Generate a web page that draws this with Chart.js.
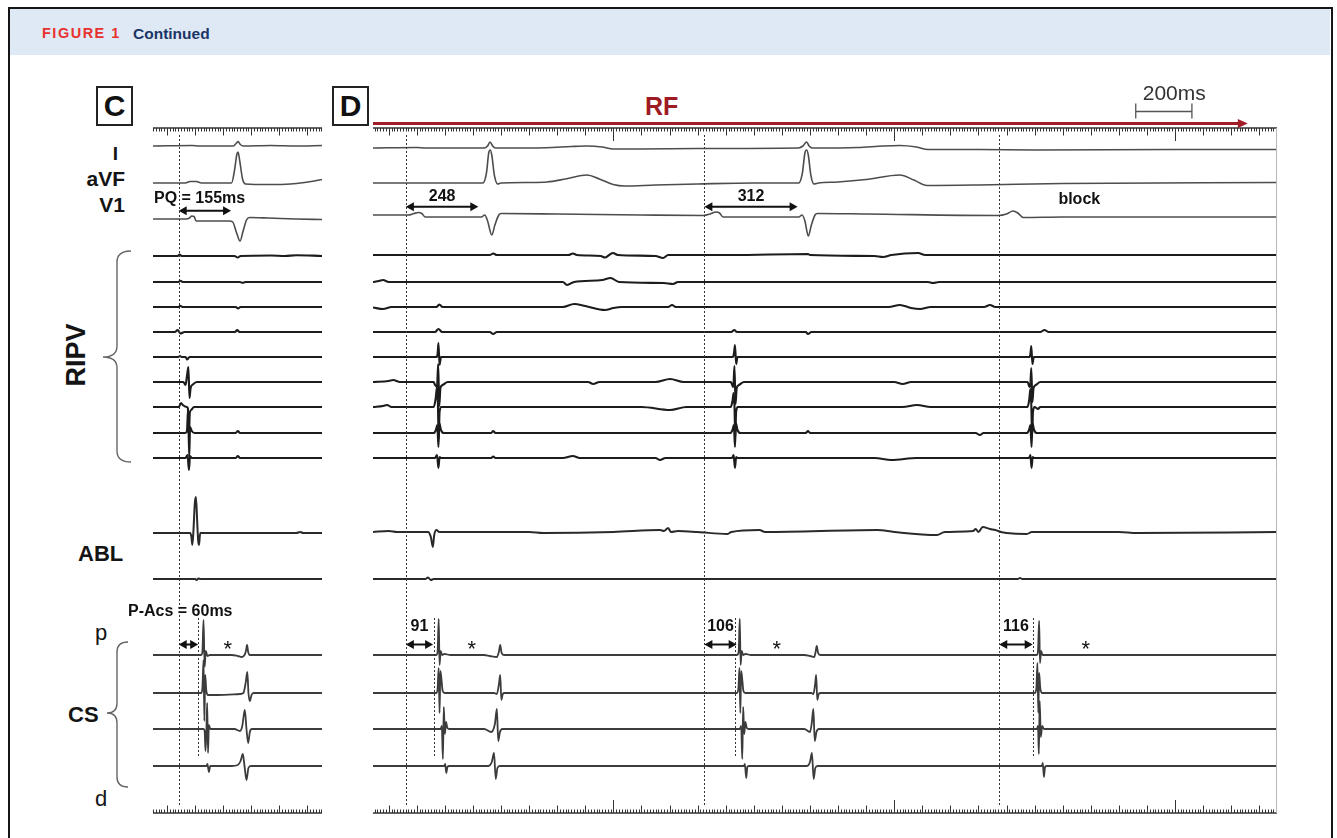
<!DOCTYPE html>
<html>
<head>
<meta charset="utf-8">
<title>Figure 1 continued</title>
<script src="https://cdn.jsdelivr.net/npm/chart.js@4.4.1/dist/chart.umd.min.js"></script>
<style>
  html, body { margin: 0; padding: 0; background: #fff; }
  body { width: 1337px; height: 838px; position: relative; overflow: hidden; font-family: "Liberation Sans", Arial, sans-serif; }
  #frame { position: absolute; left: 8px; top: 7px; width: 1325px; height: 880px; border: 2.5px solid #151515; box-sizing: border-box; }
  #band { position: absolute; left: 10px; top: 9px; width: 1320px; height: 46px; background: #dfe9f5; }
  .hdr { position: absolute; font-weight: bold; line-height: 1; white-space: nowrap; }
  .lbl { position: absolute; font-weight: bold; color: #141414; line-height: 1; white-space: nowrap; }
  .box { position: absolute; width: 37px; height: 40px; border: 2px solid #222; box-sizing: border-box; font-weight: bold; font-size: 30px; line-height: 36px; text-align: center; color: #111; }
  canvas { position: absolute; }
  svg { position: absolute; left: 0; top: 0; }
</style>
</head>
<body>
<div id="frame"></div>
<div id="band"></div>
<div class="hdr" style="left:42px; top:26.3px; font-size:14.5px; letter-spacing:1.5px; color:#e8312f;">FIGURE 1</div>
<div class="hdr" style="left:133px; top:26px; font-size:15.5px; color:#1a3566;">Continued</div>

<div class="box" style="left:96px; top:86px;">C</div>
<div class="box" style="left:332px; top:86px;">D</div>
<div class="lbl" style="left:645px; top:94px; font-size:25px; color:#9e1b24;">RF</div>

<div class="lbl" style="right:1219px; top:143.7px; font-size:19px;">I</div>
<div class="lbl" style="right:1212px; top:167.7px; font-size:21px;">aVF</div>
<div class="lbl" style="right:1212px; top:193.7px; font-size:21px;">V1</div>
<div class="lbl" style="left:76px; top:355px; font-size:27px; transform: translate(-50%, -50%) rotate(-90deg);">RIPV</div>
<div class="lbl" style="left:78px; top:543.2px; font-size:22px;">ABL</div>
<div class="lbl" style="left:95px; top:622.4px; font-size:22px; font-weight:normal;">p</div>
<div class="lbl" style="left:68px; top:704.2px; font-size:22px;">CS</div>
<div class="lbl" style="left:95px; top:788.4px; font-size:22px; font-weight:normal;">d</div>

<svg width="1337" height="838">
  <path d="M131,251 Q117,251 117,262 L117,346 Q117,357 103,357 Q117,357 117,368 L117,451 Q117,462 131,462" fill="none" stroke="#666" stroke-width="1.4"/>
  <path d="M128,642 Q117,642 117,652 L117,703 Q117,713 107,713 Q117,713 117,723 L117,777 Q117,787 128,787" fill="none" stroke="#666" stroke-width="1.4"/>
</svg>

<canvas id="chartC" width="240" height="778" style="left:100px; top:60px;"></canvas>
<canvas id="chartD" width="960" height="778" style="left:340px; top:60px;"></canvas>

<script>
// ---------- panel C : sinus beat (time in ms, amplitude in px, up = positive) ----------
const cRange = [50, 652];
const cLeadI = [[50,0],[190,0.5],[215,0],[336,0],[346,2.5],[353,4.5],[361,1.5],[372,0],[470,0.5],[560,0],[652,0.5]];
const cLeadAVF = [[50,0],[165,0],[182,1.5],[205,1.5],[222,0],[330,0],[340,12],[349,29],[353,31],[359,22],[369,4],[380,-1],[460,-1.5],[540,-1],[590,0.5],[625,2],[652,3.5]];
const cLeadV1 = [[50,0],[168,0],[180,1],[188,3],[196,2.5],[204,-2],[250,-2],[322,-2],[334,-3],[348,-14],[360,-22],[371,-12],[383,-1],[394,1.5],[460,1],[560,0],[652,-0.5]];
const cRipv1 = [[50,0],[138,0],[145,1.5],[152,0],[340,0],[352,-1.5],[362,0],[470,0.5],[520,0],[560,0.8],[652,0]];
const cRipv2 = [[50,0],[140,0],[148,1.2],[156,0],[360,0],[368,-0.8],[380,0],[652,0]];
const cRipv3 = [[50,0],[140,0],[147,1.2],[155,0],[345,0],[353,-1.5],[362,0],[652,0]];
const cRipv4 = [[50,0],[128,0],[138,2],[148,-1.5],[162,0],[342,0],[350,2],[358,0],[652,0]];
const cRipv5 = [[50,0],[140,0],[146,1],[152,0],[166,0],[172,-2.5],[180,0],[652,0]];
const cRipv6 = [[50,0],[158,0],[166,-3],[171,6],[176,15],[180,-16],[184,-6],[192,-2.5],[206,0],[652,0]];
const cRipv7 = [[50,0],[142,0],[150,4],[156,2],[170,0],[174,-1],[178,-30],[181,-6],[186,-3],[196,0],[652,0]];
const cRipv8 = [[50,0],[165,0],[171,2],[175,24],[179,-24],[182,6],[188,2],[198,0],[345,0],[352,2],[360,0],[652,0]];
const cRipv9 = [[50,0],[166,0],[173,3],[178,-12],[182,2],[188,0],[345,0],[352,2],[360,0],[652,0]];
const cAbl1 = [[50,0],[182,0],[187,-4],[190,-12],[194,2],[199,30],[203,36],[207,14],[211,-8],[214,-12],[218,0],[560,0],[575,1],[585,0],[652,0]];
const cAbl2 = [[50,0],[200,0],[205,-1],[212,0.5],[220,0],[652,0]];
const cCs1 = [[50,0],[222,0],[226,3],[230,35],[234,-12],[238,4],[244,-1],[252,0],[330,0],[352,-1],[366,-2],[376,0],[381,4],[385,10],[389,3],[395,0],[652,0]];
const cCs2 = [[50,0],[222,0],[226,5],[230,33],[233,-28],[236,18],[240,2],[246,-2],[280,-2],[360,-1],[372,0],[380,10],[386,21],[390,0],[395,-8],[401,-2],[408,0],[652,0]];
const cCs3 = [[50,0],[230,0],[234,-2],[237,-22],[240,-4],[243,26],[246,-24],[249,4],[254,0],[340,0],[360,-2],[368,3],[377,19],[383,0],[389,-14],[395,-3],[402,0],[652,0]];
const cCs4 = [[50,0],[240,0],[244,2],[249,-6],[254,0],[330,0],[352,1],[362,5],[370,12],[376,0],[383,-14],[390,-2],[398,0],[652,0]];
const cPOnset = [141.6];
const cAcs = [211];
const cPQEnd = [328];
const cStars = [316];

// ---------- panel D : during RF ----------
const dRange = [144, 3363];
const dLeadI = [[144,0],[300,0.5],[330,0],[540,0],[552,2],[561,6],[570,2],[580,0],[760,0.3],[850,1.5],[906,2],[960,1],[1000,-1],[1100,-1],[1300,-0.5],[1660,0],[1675,2],[1688,6],[1697,2],[1708,0],[1870,0.5],[1960,2],[2020,2.5],[2080,1],[2120,-1.5],[2300,-1.5],[2500,-2],[3000,-1.5],[3363,-1.5]];
const dLeadAVF = [[144,0],[400,0],[535,0],[548,10],[556,30],[561,33],[567,28],[576,8],[588,-1],[600,0],[700,0.5],[763,1],[830,4],[906,8],[950,4],[999,-1.5],[1040,-3],[1150,-2],[1300,-1],[1500,0],[1660,0],[1673,10],[1682,30],[1688,33],[1694,28],[1703,8],[1714,-1],[1730,0],[1800,1],[1900,3.5],[2020,8],[2070,3],[2117,-2.5],[2300,-2],[2600,-0.5],[3363,0.5]];
const dLeadV1 = [[144,0],[270,0],[290,1.5],[306,2.5],[318,1.5],[330,-2],[530,-2],[542,0],[552,-6],[567,-20],[578,-10],[592,0],[600,1.5],[800,1],[1100,0],[1320,-0.5],[1345,1],[1365,3],[1378,2],[1390,-2],[1660,-2],[1672,0],[1682,-6],[1694,-21],[1705,-10],[1718,0],[1726,1.5],[1900,1],[2370,-0.5],[2400,1],[2423,4],[2440,2],[2459,-2.5],[2600,-2],[3363,-2]];
const dRipv1 = [[144,0],[560,0],[572,1.5],[585,0],[840,0],[856,1.5],[870,0],[955,-1],[970,-2.5],[985,0],[999,2],[1015,0],[1150,-1],[1177,-3],[1195,0],[1420,0],[1693,1],[1700,0],[1930,-1],[1960,-2],[1990,0],[2085,2],[2110,0],[3363,0]];
const dRipv2 = [[144,0],[165,1],[180,2],[200,0],[820,0],[835,-3],[860,0],[960,2],[990,4],[1020,0],[1180,-1],[1212,-2],[1230,0],[2120,0],[2138,-1],[2160,0],[3363,0]];
const dRipv3 = [[144,-0.5],[180,-2],[210,0],[370,0],[380,2.5],[392,0],[820,0],[860,3],[900,1],[970,-3],[1000,-1],[1030,0],[1195,0],[1209,2],[1222,0],[1980,0],[2020,2],[2060,-1],[2092,-2],[2130,0],[2320,0],[2341,2],[2360,0],[3363,0]];
const dRipv4 = [[144,0],[365,0],[377,3],[390,0],[560,0],[572,-2],[585,0],[1420,0],[1430,2],[1440,0],[1685,0],[1693,-2],[1705,0],[2520,0],[2535,2],[2550,0],[3363,0]];
const dRipv5 = [[144,0],[370,0],[374,3],[377,14],[381,-8],[386,0],[1425,0],[1429,3],[1433,12],[1437,-7],[1442,0],[2481,0],[2485,3],[2488,11],[2492,-7],[2497,0],[3363,0]];
const dRipv6 = [[144,0],[200,1],[216,2],[240,0],[360,0],[365,-3],[372,-5],[376,18],[380,-24],[384,-6],[392,-3],[410,0],[910,0],[928,-2],[950,0],[1150,0],[1202,3],[1250,0],[1418,0],[1423,-3],[1427,-5],[1431,16],[1435,-22],[1439,-6],[1447,-3],[1465,0],[2000,0],[2030,-2],[2060,0],[2475,0],[2480,-4],[2484,-5],[2488,14],[2492,-20],[2496,-6],[2504,-3],[2520,0],[3363,0]];
const dRipv7 = [[144,0],[180,1],[194,2],[210,0],[360,0],[367,8],[372,20],[375,5],[378,-32],[381,-5],[387,0],[1100,0],[1202,-3],[1260,0],[1418,0],[1424,6],[1428,14],[1431,3],[1434,-30],[1437,-5],[1443,0],[2030,0],[2081,2],[2130,0],[2475,0],[2481,8],[2485,18],[2488,3],[2491,-30],[2494,-5],[2500,0],[2512,-2],[2520,0],[3363,0]];
const dRipv8 = [[144,0],[360,0],[368,3],[373,8],[377,-14],[380,10],[386,3],[396,0],[565,0],[572,2],[580,0],[1416,0],[1424,3],[1429,8],[1433,-14],[1436,10],[1442,3],[1452,0],[1685,0],[1693,2],[1700,0],[2290,0],[2305,-2],[2318,0],[2472,0],[2480,3],[2485,8],[2489,-14],[2492,10],[2498,3],[2508,0],[3363,0]];
const dRipv9 = [[144,0],[365,0],[372,3],[377,-10],[381,1],[386,0],[565,0],[572,1.5],[580,0],[820,0],[856,2],[880,0],[1150,0],[1166,-2],[1185,0],[1422,0],[1428,3],[1433,-10],[1437,1],[1442,0],[1930,0],[1990,-2],[2080,0],[2480,0],[2485,3],[2489,-10],[2493,1],[2498,0],[3363,0]];
const dAbl1 = [[144,0],[200,1],[230,0],[340,0],[350,-5],[357,-15],[362,-3],[370,2],[380,0],[700,0],[750,-1],[1000,0],[1166,2],[1180,1],[1195,4],[1205,0],[1230,1],[1300,0],[1405,-2],[1420,0],[1520,2],[1540,0],[1939,2],[2000,0],[2152,-3],[2180,0],[2281,1],[2290,3],[2300,0],[2315,5],[2341,3],[2360,2],[2380,0],[2400,-1],[2472,-2],[2490,0],[2800,0],[2864,-1],[3363,0]];
const dAbl2 = [[144,0],[330,0],[340,1.5],[350,-1],[360,0],[2440,0],[2448,1],[2456,0],[3363,0]];
const dCs1 = [[144,0],[370,0],[374,3],[378,36],[381,-10],[385,4],[390,0],[398,1],[420,0],[540,0],[560,-1],[585,-2],[592,3],[597,10],[602,2],[610,0],[1440,0],[1446,3],[1450,36],[1453,-10],[1457,4],[1462,0],[1470,1],[1490,0],[1680,0],[1700,-1],[1715,-2],[1720,3],[1724,9],[1729,2],[1737,0],[2508,0],[2512,4],[2516,34],[2519,-8],[2523,4],[2528,0],[3363,0]];
const dCs2 = [[144,0],[370,0],[374,4],[378,25],[381,-20],[384,22],[388,13],[392,2],[400,0],[575,0],[585,-1],[592,8],[597,18],[601,-7],[606,-1],[612,0],[1440,0],[1445,4],[1449,25],[1452,-20],[1455,22],[1459,13],[1463,2],[1470,0],[1705,0],[1712,-1],[1718,8],[1722,18],[1726,-7],[1731,-1],[1738,0],[2500,0],[2506,4],[2510,30],[2513,-20],[2516,20],[2520,5],[2526,0],[3363,0]];
const dCs3 = [[144,0],[385,0],[389,3],[393,-30],[396,22],[400,-5],[404,7],[409,1],[416,0],[540,0],[565,-3],[578,5],[585,20],[590,-12],[596,-3],[605,0],[1450,0],[1455,3],[1459,-30],[1462,22],[1466,-5],[1470,7],[1475,1],[1482,0],[1680,0],[1700,-3],[1706,5],[1712,20],[1717,-12],[1723,-3],[1732,0],[2508,0],[2512,3],[2515,-25],[2518,28],[2522,-8],[2527,3],[2533,0],[3363,0]];
const dCs4 = [[144,0],[398,0],[401,2],[405,-7],[409,-1],[414,0],[555,0],[567,4],[575,13],[581,-13],[587,-2],[595,0],[1465,0],[1468,2],[1473,-12],[1477,-1],[1482,0],[1690,0],[1700,4],[1707,13],[1713,-13],[1719,-2],[1727,0],[2526,0],[2529,3],[2533,-11],[2537,-1],[2542,0],[3363,0]];
const dPOnsets = [261, 1324, 2374];
const dAcs = [362, 1433, 2494];
const dPQEnd = [519, 1656];
const dPQLabels = ['248', '312'];
const dAcsEnd = [358, 1439, 2493];
const dAcsLabels = ['91', '106', '116'];
const dStars = [496, 1582, 2682];
const dRfEnd = 3259;
const dScaleBar = [2860, 3060];

// baselines of each channel (page pixels), top to bottom
const cLanes = [146, 183, 219, 256, 282, 307, 332, 357, 382, 407, 433, 458, 533, 579, 655, 693, 729, 766];
const dLanes = [148, 183, 215, 255, 282, 307, 332, 357, 382, 407, 433, 458, 532, 579, 655, 693, 729, 766];

const cTraces = [cLeadI, cLeadAVF, cLeadV1, cRipv1, cRipv2, cRipv3, cRipv4, cRipv5, cRipv6, cRipv7, cRipv8, cRipv9, cAbl1, cAbl2, cCs1, cCs2, cCs3, cCs4];
const dTraces = [dLeadI, dLeadAVF, dLeadV1, dRipv1, dRipv2, dRipv3, dRipv4, dRipv5, dRipv6, dRipv7, dRipv8, dRipv9, dAbl1, dAbl2, dCs1, dCs2, dCs3, dCs4];

function traceStyle(i) {
  if (i < 3) return { color: '#4d4d4d', width: 1.6 };   // surface ECG
  if (i < 12) return { color: '#1c1c1c', width: 2.1 };  // RIPV
  if (i < 14) return { color: '#2a2a2a', width: 2 };    // ABL
  return { color: '#3c3c3c', width: 1.8 };              // CS
}

function buildDatasets(traces, lanes) {
  return traces.map((pts, i) => {
    const st = traceStyle(i);
    return {
      data: pts.map(p => ({ x: p[0], y: lanes[i] - p[1] })),
      borderColor: st.color,
      borderWidth: st.width,
      pointRadius: 0,
      cubicInterpolationMode: 'monotone',
      fill: false
    };
  });
}

function ruler(ctx, X, y, dir, range) {
  ctx.strokeStyle = '#333';
  ctx.setLineDash([]);
  ctx.lineWidth = 1.6;
  ctx.beginPath();
  ctx.moveTo(X(range[0]), y);
  ctx.lineTo(X(range[1]), y);
  ctx.stroke();
  ctx.lineWidth = 1;
  ctx.beginPath();
  for (let t = Math.ceil(range[0] / 10) * 10; t <= range[1]; t += 10) {
    const len = t % 1000 === 0 ? 13 : (t % 100 === 0 ? 7.5 : 3.5);
    const x = Math.round(X(t)) + 0.5;
    ctx.moveTo(x, y);
    ctx.lineTo(x, y + dir * len);
  }
  ctx.stroke();
}

function dotted(ctx, x, y1, y2) {
  ctx.save();
  ctx.strokeStyle = '#333';
  ctx.lineWidth = 1;
  ctx.setLineDash([2, 2]);
  ctx.beginPath();
  ctx.moveTo(Math.round(x) + 0.5, y1);
  ctx.lineTo(Math.round(x) + 0.5, y2);
  ctx.stroke();
  ctx.restore();
}

function head(ctx, x, y, dir) {
  ctx.beginPath();
  ctx.moveTo(x, y);
  ctx.lineTo(x + dir * 8, y - 4.5);
  ctx.lineTo(x + dir * 8, y + 4.5);
  ctx.closePath();
  ctx.fill();
}

function dblArrow(ctx, x1, x2, y) {
  ctx.save();
  ctx.strokeStyle = '#111';
  ctx.fillStyle = '#111';
  ctx.lineWidth = 2;
  ctx.beginPath();
  ctx.moveTo(x1 + 6, y);
  ctx.lineTo(x2 - 6, y);
  ctx.stroke();
  head(ctx, x1, y, 1);
  head(ctx, x2, y, -1);
  ctx.restore();
}

function label(ctx, text, x, y, font, align, color) {
  ctx.save();
  ctx.font = font;
  ctx.fillStyle = color || '#111';
  ctx.textAlign = align || 'center';
  ctx.textBaseline = 'middle';
  ctx.fillText(text, x, y);
  ctx.restore();
}

function star(ctx, x, y) {
  ctx.save();
  ctx.font = '22px "Liberation Sans", Arial, sans-serif';
  ctx.fillStyle = '#111';
  ctx.textAlign = 'center';
  ctx.textBaseline = 'alphabetic';
  ctx.fillText('*', x, y);
  ctx.restore();
}

const BOLD16 = 'bold 16px "Liberation Sans", Arial, sans-serif';

const decor = {
  id: 'decor',
  afterDatasetsDraw(chart, args, o) {
    const ctx = chart.ctx;
    const xs = chart.scales.x, ys = chart.scales.y;
    const X = t => xs.getPixelForValue(t);
    const Y = v => ys.getPixelForValue(v);
    ctx.save();
    ruler(ctx, X, Y(128), 1, o.range);
    ruler(ctx, X, Y(813), -1, o.range);

    if (o.edge) {
      ctx.strokeStyle = '#b8b8b8';
      ctx.lineWidth = 1;
      ctx.beginPath();
      ctx.moveTo(X(o.range[1]) - 0.5, Y(128));
      ctx.lineTo(X(o.range[1]) - 0.5, Y(813));
      ctx.stroke();
    }

    o.onsets.forEach(t => dotted(ctx, X(t), Y(135), Y(806)));
    o.acs.forEach(t => dotted(ctx, X(t), Y(618), Y(756)));

    // P onset -> QRS intervals
    o.pqEnd.forEach((t, i) => {
      dblArrow(ctx, X(o.onsets[i]), X(t), Y(o.pqY));
      if (o.pqLabels) label(ctx, o.pqLabels[i], (X(o.onsets[i]) + X(t)) / 2, Y(197), BOLD16);
    });
    // P onset -> CS intervals
    o.acsEnd.forEach((t, i) => {
      dblArrow(ctx, X(o.onsets[i]), X(t), Y(644.5));
      if (o.acsLabels) label(ctx, o.acsLabels[i], (X(o.onsets[i]) + X(t)) / 2, Y(627), BOLD16);
    });
    o.stars.forEach(t => star(ctx, X(t), Y(656)));

    if (o.texts) o.texts.forEach(tx => label(ctx, tx.text, X(tx.t), Y(tx.y), BOLD16, tx.align));

    if (o.rfEnd) {
      const y = Y(123.5);
      ctx.strokeStyle = '#a11d27';
      ctx.fillStyle = '#a11d27';
      ctx.lineWidth = 3;
      ctx.beginPath();
      ctx.moveTo(X(o.range[0]), y);
      ctx.lineTo(X(o.rfEnd) - 6, y);
      ctx.stroke();
      ctx.beginPath();
      ctx.moveTo(X(o.rfEnd), y);
      ctx.lineTo(X(o.rfEnd) - 10, y - 4.5);
      ctx.lineTo(X(o.rfEnd) - 10, y + 4.5);
      ctx.closePath();
      ctx.fill();
    }
    if (o.scaleBar) {
      const a = X(o.scaleBar[0]), b = X(o.scaleBar[1]), y = Y(111.5);
      ctx.strokeStyle = '#555';
      ctx.lineWidth = 1.3;
      ctx.beginPath();
      ctx.moveTo(a, y); ctx.lineTo(b, y);
      ctx.moveTo(a, y - 8); ctx.lineTo(a, y + 7);
      ctx.moveTo(b, y - 8); ctx.lineTo(b, y + 7);
      ctx.stroke();
      label(ctx, '200ms', a + 7, Y(94.5), '21px "Liberation Sans", Arial, sans-serif', 'left', '#333');
    }
    ctx.restore();
  }
};

function makeChart(id, range, traces, lanes, pad, decorOpts) {
  return new Chart(document.getElementById(id), {
    type: 'line',
    data: { datasets: buildDatasets(traces, lanes) },
    options: {
      responsive: false,
      animation: false,
      events: [],
      layout: { padding: pad },
      scales: {
        x: { type: 'linear', min: range[0], max: range[1], display: false },
        y: { type: 'linear', min: 120, max: 820, reverse: true, display: false }
      },
      plugins: {
        legend: { display: false },
        tooltip: { enabled: false },
        decor: decorOpts
      }
    },
    plugins: [decor]
  });
}

makeChart('chartC', cRange, cTraces, cLanes, { left: 53, right: 18, top: 60, bottom: 18 }, {
  range: cRange,
  onsets: cPOnset,
  acs: cAcs,
  pqEnd: cPQEnd,
  pqY: 210.7,
  acsEnd: cAcs,
  stars: cStars,
  texts: [
    { text: 'PQ = 155ms', t: 53.6, y: 198.5, align: 'left' },
    { text: 'P-Acs = 60ms', t: -39, y: 611.5, align: 'left' }
  ]
});

makeChart('chartD', dRange, dTraces, dLanes, { left: 33, right: 23, top: 60, bottom: 18 }, {
  range: dRange,
  edge: true,
  onsets: dPOnsets,
  acs: dAcs,
  pqEnd: dPQEnd,
  pqLabels: dPQLabels,
  pqY: 206.7,
  acsEnd: dAcsEnd,
  acsLabels: dAcsLabels,
  stars: dStars,
  texts: [{ text: 'block', t: 2659, y: 200, align: 'center' }],
  rfEnd: dRfEnd,
  scaleBar: dScaleBar
});
</script>
</body>
</html>
